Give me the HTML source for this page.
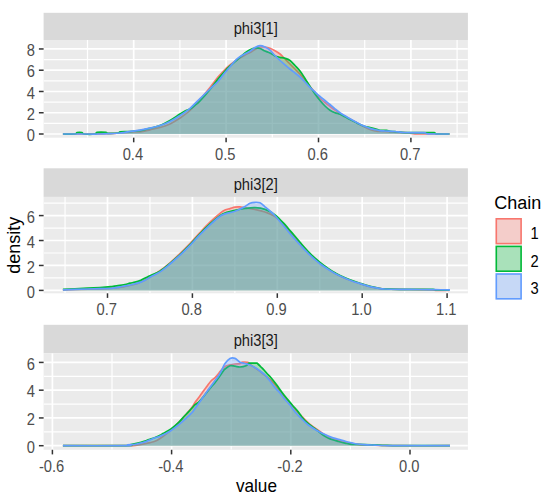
<!DOCTYPE html><html><head><meta charset="utf-8"><style>html,body{margin:0;padding:0;background:#fff;width:550px;height:502px;overflow:hidden}svg{display:block}text{font-family:"Liberation Sans",sans-serif}</style></head><body>
<svg width="550" height="502" viewBox="0 0 550 502">
<rect width="550" height="502" fill="#fff"/>
<rect x="43.6" y="12.8" width="424.3" height="27.2" fill="#D9D9D9"/>
<text transform="translate(255.75,34) scale(0.92,1)" font-size="16" fill="#1A1A1A" text-anchor="middle">phi3[1]</text>
<rect x="43.6" y="40" width="424.3" height="97.7" fill="#EBEBEB"/>
<g clip-path="url(#c0)">
<line x1="43.6" x2="467.9" y1="123.37" y2="123.37" stroke="#fff" stroke-width="1.2"/>
<line x1="43.6" x2="467.9" y1="102.11" y2="102.11" stroke="#fff" stroke-width="1.2"/>
<line x1="43.6" x2="467.9" y1="80.85" y2="80.85" stroke="#fff" stroke-width="1.2"/>
<line x1="43.6" x2="467.9" y1="59.59" y2="59.59" stroke="#fff" stroke-width="1.2"/>
<line y1="40" y2="137.7" x1="87.5" x2="87.5" stroke="#fff" stroke-width="1.2"/>
<line y1="40" y2="137.7" x1="179.9" x2="179.9" stroke="#fff" stroke-width="1.2"/>
<line y1="40" y2="137.7" x1="272.3" x2="272.3" stroke="#fff" stroke-width="1.2"/>
<line y1="40" y2="137.7" x1="364.7" x2="364.7" stroke="#fff" stroke-width="1.2"/>
<line y1="40" y2="137.7" x1="457.1" x2="457.1" stroke="#fff" stroke-width="1.2"/>
<line x1="43.6" x2="467.9" y1="134" y2="134" stroke="#fff" stroke-width="1.7"/>
<line x1="43.6" x2="467.9" y1="112.74" y2="112.74" stroke="#fff" stroke-width="1.7"/>
<line x1="43.6" x2="467.9" y1="91.48" y2="91.48" stroke="#fff" stroke-width="1.7"/>
<line x1="43.6" x2="467.9" y1="70.22" y2="70.22" stroke="#fff" stroke-width="1.7"/>
<line x1="43.6" x2="467.9" y1="48.96" y2="48.96" stroke="#fff" stroke-width="1.7"/>
<line y1="40" y2="137.7" x1="133.7" x2="133.7" stroke="#fff" stroke-width="1.7"/>
<line y1="40" y2="137.7" x1="226.1" x2="226.1" stroke="#fff" stroke-width="1.7"/>
<line y1="40" y2="137.7" x1="318.5" x2="318.5" stroke="#fff" stroke-width="1.7"/>
<line y1="40" y2="137.7" x1="410.9" x2="410.9" stroke="#fff" stroke-width="1.7"/>
<path d="M62.9,134C65.75,134 73.82,134.03 80,134C86.18,133.97 94.17,133.92 100,133.8C105.83,133.68 110.83,133.52 115,133.3C119.17,133.08 122.17,132.72 125,132.5C127.83,132.28 129.5,132.12 132,132C134.5,131.88 137,132.17 140,131.8C143,131.43 146.67,130.52 150,129.8C153.33,129.08 156.67,128.48 160,127.5C163.33,126.52 166.67,125.48 170,123.9C173.33,122.32 176.67,120.23 180,118C183.33,115.77 186.67,113.58 190,110.5C193.33,107.42 196.67,103.33 200,99.5C203.33,95.67 207,91.25 210,87.5C213,83.75 215.5,80 218,77C220.5,74 223,71.5 225,69.5C227,67.5 228,66.63 230,65C232,63.37 234.5,61.37 237,59.7C239.5,58.03 242.83,56.2 245,55C247.17,53.8 248.33,53.42 250,52.5C251.67,51.58 253.33,50.42 255,49.5C256.67,48.58 258.33,47.42 260,47C261.67,46.58 263.33,46.8 265,47C266.67,47.2 268.33,47.57 270,48.2C271.67,48.83 273.33,49.83 275,50.8C276.67,51.77 278.33,52.63 280,54C281.67,55.37 283.33,57.33 285,59C286.67,60.67 288.33,62.33 290,64C291.67,65.67 293.33,67.33 295,69C296.67,70.67 298.33,72.17 300,74C301.67,75.83 303.33,77.92 305,80C306.67,82.08 308.33,84.42 310,86.5C311.67,88.58 313.33,90.5 315,92.5C316.67,94.5 318.33,96.83 320,98.5C321.67,100.17 323.33,101.2 325,102.5C326.67,103.8 328.33,105.05 330,106.3C331.67,107.55 333.33,108.8 335,110C336.67,111.2 338.33,112.45 340,113.5C341.67,114.55 343.33,115.38 345,116.3C346.67,117.22 348.33,118.08 350,119C351.67,119.92 353.33,120.88 355,121.8C356.67,122.72 358.33,123.6 360,124.5C361.67,125.4 363.33,126.37 365,127.2C366.67,128.03 368.33,128.9 370,129.5C371.67,130.1 373.33,130.47 375,130.8C376.67,131.13 377.5,131.32 380,131.5C382.5,131.68 385.83,131.72 390,131.9C394.17,132.08 400.5,132.27 405,132.6C409.5,132.93 413.5,133.67 417,133.9C420.5,134.13 423,133.98 426,134C429,134.02 431.08,134 435,134C438.92,134 447.08,134 449.5,134L449.5,134L62.9,134Z" fill="#F8766D" fill-opacity="0.3"/>
<path d="M62.9,134C65.75,134 73.82,134.03 80,134C86.18,133.97 94.17,133.92 100,133.8C105.83,133.68 110.83,133.52 115,133.3C119.17,133.08 122.17,132.72 125,132.5C127.83,132.28 129.5,132.12 132,132C134.5,131.88 137,132.17 140,131.8C143,131.43 146.67,130.52 150,129.8C153.33,129.08 156.67,128.48 160,127.5C163.33,126.52 166.67,125.48 170,123.9C173.33,122.32 176.67,120.23 180,118C183.33,115.77 186.67,113.58 190,110.5C193.33,107.42 196.67,103.33 200,99.5C203.33,95.67 207,91.25 210,87.5C213,83.75 215.5,80 218,77C220.5,74 223,71.5 225,69.5C227,67.5 228,66.63 230,65C232,63.37 234.5,61.37 237,59.7C239.5,58.03 242.83,56.2 245,55C247.17,53.8 248.33,53.42 250,52.5C251.67,51.58 253.33,50.42 255,49.5C256.67,48.58 258.33,47.42 260,47C261.67,46.58 263.33,46.8 265,47C266.67,47.2 268.33,47.57 270,48.2C271.67,48.83 273.33,49.83 275,50.8C276.67,51.77 278.33,52.63 280,54C281.67,55.37 283.33,57.33 285,59C286.67,60.67 288.33,62.33 290,64C291.67,65.67 293.33,67.33 295,69C296.67,70.67 298.33,72.17 300,74C301.67,75.83 303.33,77.92 305,80C306.67,82.08 308.33,84.42 310,86.5C311.67,88.58 313.33,90.5 315,92.5C316.67,94.5 318.33,96.83 320,98.5C321.67,100.17 323.33,101.2 325,102.5C326.67,103.8 328.33,105.05 330,106.3C331.67,107.55 333.33,108.8 335,110C336.67,111.2 338.33,112.45 340,113.5C341.67,114.55 343.33,115.38 345,116.3C346.67,117.22 348.33,118.08 350,119C351.67,119.92 353.33,120.88 355,121.8C356.67,122.72 358.33,123.6 360,124.5C361.67,125.4 363.33,126.37 365,127.2C366.67,128.03 368.33,128.9 370,129.5C371.67,130.1 373.33,130.47 375,130.8C376.67,131.13 377.5,131.32 380,131.5C382.5,131.68 385.83,131.72 390,131.9C394.17,132.08 400.5,132.27 405,132.6C409.5,132.93 413.5,133.67 417,133.9C420.5,134.13 423,133.98 426,134C429,134.02 431.08,134 435,134C438.92,134 447.08,134 449.5,134" fill="none" stroke="#F8766D" stroke-width="1.7" stroke-linejoin="round"/>
<path d="M62.9,134C64.92,134 72.65,134.23 75,134C77.35,133.77 75.83,132.83 77,132.6C78.17,132.37 80.83,132.37 82,132.6C83.17,132.83 81.83,133.77 84,134C86.17,134.23 92.83,134.27 95,134C97.17,133.73 95.17,132.67 97,132.4C98.83,132.13 104.17,132.23 106,132.4C107.83,132.57 106,133.3 108,133.4C110,133.5 116,133.27 118,133C120,132.73 118.5,132.03 120,131.8C121.5,131.57 125,131.68 127,131.6C129,131.52 129.83,131.47 132,131.3C134.17,131.13 137,131.1 140,130.6C143,130.1 146.67,129.15 150,128.3C153.33,127.45 156.67,126.8 160,125.5C163.33,124.2 166.67,122.42 170,120.5C173.33,118.58 177.5,115.58 180,114C182.5,112.42 183.33,111.83 185,111C186.67,110.17 188.33,109.95 190,109C191.67,108.05 193.33,106.63 195,105.3C196.67,103.97 197.5,103.63 200,101C202.5,98.37 207,93.17 210,89.5C213,85.83 215.5,82.08 218,79C220.5,75.92 223,73.17 225,71C227,68.83 228,67.83 230,66C232,64.17 234.5,62.17 237,60C239.5,57.83 242.83,54.7 245,53C247.17,51.3 248.33,50.63 250,49.8C251.67,48.97 253.33,48.22 255,48C256.67,47.78 258.33,48 260,48.5C261.67,49 263.33,50.25 265,51C266.67,51.75 268.33,52.17 270,53C271.67,53.83 273.33,55.28 275,56C276.67,56.72 278.33,56.92 280,57.3C281.67,57.68 283.33,57.77 285,58.3C286.67,58.83 288.33,59.3 290,60.5C291.67,61.7 293.33,63.75 295,65.5C296.67,67.25 298.33,68.83 300,71C301.67,73.17 303.33,75.92 305,78.5C306.67,81.08 308.33,83.92 310,86.5C311.67,89.08 313.33,91.67 315,94C316.67,96.33 318.33,98.5 320,100.5C321.67,102.5 323.33,104.37 325,106C326.67,107.63 328.33,109.17 330,110.3C331.67,111.43 333.33,112.13 335,112.8C336.67,113.47 338.33,113.63 340,114.3C341.67,114.97 343.33,115.93 345,116.8C346.67,117.67 348.33,118.63 350,119.5C351.67,120.37 353.33,121.17 355,122C356.67,122.83 358.33,123.75 360,124.5C361.67,125.25 363.33,125.98 365,126.5C366.67,127.02 368.17,127.17 370,127.6C371.83,128.03 374.33,128.65 376,129.1C377.67,129.55 378.25,130.1 380,130.3C381.75,130.5 384.83,130.12 386.5,130.3C388.17,130.48 388.58,131.18 390,131.4C391.42,131.62 392.5,131.4 395,131.6C397.5,131.8 400.83,132.42 405,132.6C409.17,132.78 416.5,132.7 420,132.7C423.5,132.7 423.67,132.6 426,132.6C428.33,132.6 432.17,132.48 434,132.7C435.83,132.92 434.42,133.68 437,133.9C439.58,134.12 447.42,133.98 449.5,134L449.5,134L62.9,134Z" fill="#00BA38" fill-opacity="0.3"/>
<path d="M62.9,134C64.92,134 72.65,134.23 75,134C77.35,133.77 75.83,132.83 77,132.6C78.17,132.37 80.83,132.37 82,132.6C83.17,132.83 81.83,133.77 84,134C86.17,134.23 92.83,134.27 95,134C97.17,133.73 95.17,132.67 97,132.4C98.83,132.13 104.17,132.23 106,132.4C107.83,132.57 106,133.3 108,133.4C110,133.5 116,133.27 118,133C120,132.73 118.5,132.03 120,131.8C121.5,131.57 125,131.68 127,131.6C129,131.52 129.83,131.47 132,131.3C134.17,131.13 137,131.1 140,130.6C143,130.1 146.67,129.15 150,128.3C153.33,127.45 156.67,126.8 160,125.5C163.33,124.2 166.67,122.42 170,120.5C173.33,118.58 177.5,115.58 180,114C182.5,112.42 183.33,111.83 185,111C186.67,110.17 188.33,109.95 190,109C191.67,108.05 193.33,106.63 195,105.3C196.67,103.97 197.5,103.63 200,101C202.5,98.37 207,93.17 210,89.5C213,85.83 215.5,82.08 218,79C220.5,75.92 223,73.17 225,71C227,68.83 228,67.83 230,66C232,64.17 234.5,62.17 237,60C239.5,57.83 242.83,54.7 245,53C247.17,51.3 248.33,50.63 250,49.8C251.67,48.97 253.33,48.22 255,48C256.67,47.78 258.33,48 260,48.5C261.67,49 263.33,50.25 265,51C266.67,51.75 268.33,52.17 270,53C271.67,53.83 273.33,55.28 275,56C276.67,56.72 278.33,56.92 280,57.3C281.67,57.68 283.33,57.77 285,58.3C286.67,58.83 288.33,59.3 290,60.5C291.67,61.7 293.33,63.75 295,65.5C296.67,67.25 298.33,68.83 300,71C301.67,73.17 303.33,75.92 305,78.5C306.67,81.08 308.33,83.92 310,86.5C311.67,89.08 313.33,91.67 315,94C316.67,96.33 318.33,98.5 320,100.5C321.67,102.5 323.33,104.37 325,106C326.67,107.63 328.33,109.17 330,110.3C331.67,111.43 333.33,112.13 335,112.8C336.67,113.47 338.33,113.63 340,114.3C341.67,114.97 343.33,115.93 345,116.8C346.67,117.67 348.33,118.63 350,119.5C351.67,120.37 353.33,121.17 355,122C356.67,122.83 358.33,123.75 360,124.5C361.67,125.25 363.33,125.98 365,126.5C366.67,127.02 368.17,127.17 370,127.6C371.83,128.03 374.33,128.65 376,129.1C377.67,129.55 378.25,130.1 380,130.3C381.75,130.5 384.83,130.12 386.5,130.3C388.17,130.48 388.58,131.18 390,131.4C391.42,131.62 392.5,131.4 395,131.6C397.5,131.8 400.83,132.42 405,132.6C409.17,132.78 416.5,132.7 420,132.7C423.5,132.7 423.67,132.6 426,132.6C428.33,132.6 432.17,132.48 434,132.7C435.83,132.92 434.42,133.68 437,133.9C439.58,134.12 447.42,133.98 449.5,134" fill="none" stroke="#00BA38" stroke-width="1.7" stroke-linejoin="round"/>
<path d="M62.9,134C65.75,134 73.82,134 80,134C86.18,134 95,134.07 100,134C105,133.93 106.67,133.77 110,133.6C113.33,133.43 117.5,133.22 120,133C122.5,132.78 123,132.6 125,132.3C127,132 129.5,131.55 132,131.2C134.5,130.85 137,130.7 140,130.2C143,129.7 146.67,128.98 150,128.2C153.33,127.42 156.67,126.62 160,125.5C163.33,124.38 166.67,123.17 170,121.5C173.33,119.83 176.67,117.7 180,115.5C183.33,113.3 186.67,111.13 190,108.3C193.33,105.47 196.67,101.72 200,98.5C203.33,95.28 207,91.83 210,89C213,86.17 215.5,84.25 218,81.5C220.5,78.75 223,74.95 225,72.5C227,70.05 228,69.08 230,66.8C232,64.52 234.5,60.97 237,58.8C239.5,56.63 242.83,55.07 245,53.8C247.17,52.53 248.33,52.25 250,51.2C251.67,50.15 253.33,48.43 255,47.5C256.67,46.57 258.33,45.68 260,45.6C261.67,45.52 263.33,46.23 265,47C266.67,47.77 268.33,48.78 270,50.2C271.67,51.62 273.33,53.78 275,55.5C276.67,57.22 278.33,58.95 280,60.5C281.67,62.05 283.33,63.38 285,64.8C286.67,66.22 288.33,67.63 290,69C291.67,70.37 293.33,71.67 295,73C296.67,74.33 298.33,75.5 300,77C301.67,78.5 303.33,80.28 305,82C306.67,83.72 308.33,85.63 310,87.3C311.67,88.97 313.33,90.47 315,92C316.67,93.53 318.33,95.08 320,96.5C321.67,97.92 323.33,99.17 325,100.5C326.67,101.83 328.33,103.12 330,104.5C331.67,105.88 333.33,107.42 335,108.8C336.67,110.18 338.33,111.63 340,112.8C341.67,113.97 343.33,114.82 345,115.8C346.67,116.78 348.33,117.75 350,118.7C351.67,119.65 353.33,120.57 355,121.5C356.67,122.43 358.33,123.48 360,124.3C361.67,125.12 363.33,125.72 365,126.4C366.67,127.08 368.33,127.87 370,128.4C371.67,128.93 373.33,129.23 375,129.6C376.67,129.97 378.33,130.37 380,130.6C381.67,130.83 382.5,130.85 385,131C387.5,131.15 391.67,131.25 395,131.5C398.33,131.75 400.17,132.3 405,132.5C409.83,132.7 420.17,132.47 424,132.7C427.83,132.93 423.75,133.68 428,133.9C432.25,134.12 445.92,133.98 449.5,134L449.5,134L62.9,134Z" fill="#619CFF" fill-opacity="0.3"/>
<path d="M62.9,134C65.75,134 73.82,134 80,134C86.18,134 95,134.07 100,134C105,133.93 106.67,133.77 110,133.6C113.33,133.43 117.5,133.22 120,133C122.5,132.78 123,132.6 125,132.3C127,132 129.5,131.55 132,131.2C134.5,130.85 137,130.7 140,130.2C143,129.7 146.67,128.98 150,128.2C153.33,127.42 156.67,126.62 160,125.5C163.33,124.38 166.67,123.17 170,121.5C173.33,119.83 176.67,117.7 180,115.5C183.33,113.3 186.67,111.13 190,108.3C193.33,105.47 196.67,101.72 200,98.5C203.33,95.28 207,91.83 210,89C213,86.17 215.5,84.25 218,81.5C220.5,78.75 223,74.95 225,72.5C227,70.05 228,69.08 230,66.8C232,64.52 234.5,60.97 237,58.8C239.5,56.63 242.83,55.07 245,53.8C247.17,52.53 248.33,52.25 250,51.2C251.67,50.15 253.33,48.43 255,47.5C256.67,46.57 258.33,45.68 260,45.6C261.67,45.52 263.33,46.23 265,47C266.67,47.77 268.33,48.78 270,50.2C271.67,51.62 273.33,53.78 275,55.5C276.67,57.22 278.33,58.95 280,60.5C281.67,62.05 283.33,63.38 285,64.8C286.67,66.22 288.33,67.63 290,69C291.67,70.37 293.33,71.67 295,73C296.67,74.33 298.33,75.5 300,77C301.67,78.5 303.33,80.28 305,82C306.67,83.72 308.33,85.63 310,87.3C311.67,88.97 313.33,90.47 315,92C316.67,93.53 318.33,95.08 320,96.5C321.67,97.92 323.33,99.17 325,100.5C326.67,101.83 328.33,103.12 330,104.5C331.67,105.88 333.33,107.42 335,108.8C336.67,110.18 338.33,111.63 340,112.8C341.67,113.97 343.33,114.82 345,115.8C346.67,116.78 348.33,117.75 350,118.7C351.67,119.65 353.33,120.57 355,121.5C356.67,122.43 358.33,123.48 360,124.3C361.67,125.12 363.33,125.72 365,126.4C366.67,127.08 368.33,127.87 370,128.4C371.67,128.93 373.33,129.23 375,129.6C376.67,129.97 378.33,130.37 380,130.6C381.67,130.83 382.5,130.85 385,131C387.5,131.15 391.67,131.25 395,131.5C398.33,131.75 400.17,132.3 405,132.5C409.83,132.7 420.17,132.47 424,132.7C427.83,132.93 423.75,133.68 428,133.9C432.25,134.12 445.92,133.98 449.5,134" fill="none" stroke="#619CFF" stroke-width="1.7" stroke-linejoin="round"/>
</g>
<line x1="133.7" x2="133.7" y1="137.7" y2="142.3" stroke="#333" stroke-width="1.5"/>
<text transform="translate(132.9,159.5) scale(0.92,1)" font-size="16" fill="#4D4D4D" text-anchor="middle">0.4</text>
<line x1="226.1" x2="226.1" y1="137.7" y2="142.3" stroke="#333" stroke-width="1.5"/>
<text transform="translate(225.3,159.5) scale(0.92,1)" font-size="16" fill="#4D4D4D" text-anchor="middle">0.5</text>
<line x1="318.5" x2="318.5" y1="137.7" y2="142.3" stroke="#333" stroke-width="1.5"/>
<text transform="translate(317.7,159.5) scale(0.92,1)" font-size="16" fill="#4D4D4D" text-anchor="middle">0.6</text>
<line x1="410.9" x2="410.9" y1="137.7" y2="142.3" stroke="#333" stroke-width="1.5"/>
<text transform="translate(410.1,159.5) scale(0.92,1)" font-size="16" fill="#4D4D4D" text-anchor="middle">0.7</text>
<line x1="38.9" x2="43.6" y1="134" y2="134" stroke="#333" stroke-width="1.5"/>
<text transform="translate(35,141.2) scale(0.92,1)" font-size="16" fill="#4D4D4D" text-anchor="end">0</text>
<line x1="38.9" x2="43.6" y1="112.74" y2="112.74" stroke="#333" stroke-width="1.5"/>
<text transform="translate(35,119.94) scale(0.92,1)" font-size="16" fill="#4D4D4D" text-anchor="end">2</text>
<line x1="38.9" x2="43.6" y1="91.48" y2="91.48" stroke="#333" stroke-width="1.5"/>
<text transform="translate(35,98.68) scale(0.92,1)" font-size="16" fill="#4D4D4D" text-anchor="end">4</text>
<line x1="38.9" x2="43.6" y1="70.22" y2="70.22" stroke="#333" stroke-width="1.5"/>
<text transform="translate(35,77.42) scale(0.92,1)" font-size="16" fill="#4D4D4D" text-anchor="end">6</text>
<line x1="38.9" x2="43.6" y1="48.96" y2="48.96" stroke="#333" stroke-width="1.5"/>
<text transform="translate(35,56.16) scale(0.92,1)" font-size="16" fill="#4D4D4D" text-anchor="end">8</text>
<rect x="43.6" y="168.3" width="424.3" height="28.6" fill="#D9D9D9"/>
<text transform="translate(255.75,189.5) scale(0.92,1)" font-size="16" fill="#1A1A1A" text-anchor="middle">phi3[2]</text>
<rect x="43.6" y="196.9" width="424.3" height="96.4" fill="#EBEBEB"/>
<g clip-path="url(#c1)">
<line x1="43.6" x2="467.9" y1="277.93" y2="277.93" stroke="#fff" stroke-width="1.2"/>
<line x1="43.6" x2="467.9" y1="252.99" y2="252.99" stroke="#fff" stroke-width="1.2"/>
<line x1="43.6" x2="467.9" y1="228.05" y2="228.05" stroke="#fff" stroke-width="1.2"/>
<line x1="43.6" x2="467.9" y1="203.11" y2="203.11" stroke="#fff" stroke-width="1.2"/>
<line y1="196.9" y2="293.3" x1="65.05" x2="65.05" stroke="#fff" stroke-width="1.2"/>
<line y1="196.9" y2="293.3" x1="149.95" x2="149.95" stroke="#fff" stroke-width="1.2"/>
<line y1="196.9" y2="293.3" x1="234.85" x2="234.85" stroke="#fff" stroke-width="1.2"/>
<line y1="196.9" y2="293.3" x1="319.75" x2="319.75" stroke="#fff" stroke-width="1.2"/>
<line y1="196.9" y2="293.3" x1="404.65" x2="404.65" stroke="#fff" stroke-width="1.2"/>
<line x1="43.6" x2="467.9" y1="290.4" y2="290.4" stroke="#fff" stroke-width="1.7"/>
<line x1="43.6" x2="467.9" y1="265.46" y2="265.46" stroke="#fff" stroke-width="1.7"/>
<line x1="43.6" x2="467.9" y1="240.52" y2="240.52" stroke="#fff" stroke-width="1.7"/>
<line x1="43.6" x2="467.9" y1="215.58" y2="215.58" stroke="#fff" stroke-width="1.7"/>
<line y1="196.9" y2="293.3" x1="107.5" x2="107.5" stroke="#fff" stroke-width="1.7"/>
<line y1="196.9" y2="293.3" x1="192.4" x2="192.4" stroke="#fff" stroke-width="1.7"/>
<line y1="196.9" y2="293.3" x1="277.3" x2="277.3" stroke="#fff" stroke-width="1.7"/>
<line y1="196.9" y2="293.3" x1="362.2" x2="362.2" stroke="#fff" stroke-width="1.7"/>
<line y1="196.9" y2="293.3" x1="447.1" x2="447.1" stroke="#fff" stroke-width="1.7"/>
<path d="M62.9,289.8C64.92,289.75 68.82,289.67 75,289.5C81.18,289.33 93.33,289.05 100,288.8C106.67,288.55 110.83,288.38 115,288C119.17,287.62 121.67,287.12 125,286.5C128.33,285.88 132.5,285 135,284.3C137.5,283.6 138.33,283.02 140,282.3C141.67,281.58 143.33,280.88 145,280C146.67,279.12 147.5,278.53 150,277C152.5,275.47 156.67,273.17 160,270.8C163.33,268.43 166.67,265.67 170,262.8C173.33,259.93 176.67,256.8 180,253.6C183.33,250.4 186.67,247.1 190,243.6C193.33,240.1 196.67,236.17 200,232.6C203.33,229.03 206.67,225.4 210,222.2C213.33,219 217.5,215.43 220,213.4C222.5,211.37 223.33,210.8 225,210C226.67,209.2 228.33,209.08 230,208.6C231.67,208.12 233.33,207.38 235,207.1C236.67,206.82 238.33,206.8 240,206.9C241.67,207 242.5,207.28 245,207.7C247.5,208.12 251.67,208.68 255,209.4C258.33,210.12 261.67,210.8 265,212C268.33,213.2 271.67,214.22 275,216.6C278.33,218.98 282.5,223.73 285,226.3C287.5,228.87 288.33,230.08 290,232C291.67,233.92 293.33,235.92 295,237.8C296.67,239.68 298.33,241.47 300,243.3C301.67,245.13 303.33,247.02 305,248.8C306.67,250.58 308.33,252.33 310,254C311.67,255.67 313.33,257.3 315,258.8C316.67,260.3 318.33,261.67 320,263C321.67,264.33 323.33,265.6 325,266.8C326.67,268 328.33,269.13 330,270.2C331.67,271.27 333.33,272.25 335,273.2C336.67,274.15 337.5,274.73 340,275.9C342.5,277.07 346.67,278.92 350,280.2C353.33,281.48 356.67,282.53 360,283.6C363.33,284.67 367,285.83 370,286.6C373,287.37 375.5,287.8 378,288.2C380.5,288.6 381.33,288.8 385,289C388.67,289.2 394.17,289.3 400,289.4C405.83,289.5 414.67,289.53 420,289.6C425.33,289.67 429.17,289.68 432,289.8C434.83,289.92 434.08,290.22 437,290.3C439.92,290.38 447.42,290.3 449.5,290.3L449.5,290.4L62.9,290.4Z" fill="#F8766D" fill-opacity="0.3"/>
<path d="M62.9,289.8C64.92,289.75 68.82,289.67 75,289.5C81.18,289.33 93.33,289.05 100,288.8C106.67,288.55 110.83,288.38 115,288C119.17,287.62 121.67,287.12 125,286.5C128.33,285.88 132.5,285 135,284.3C137.5,283.6 138.33,283.02 140,282.3C141.67,281.58 143.33,280.88 145,280C146.67,279.12 147.5,278.53 150,277C152.5,275.47 156.67,273.17 160,270.8C163.33,268.43 166.67,265.67 170,262.8C173.33,259.93 176.67,256.8 180,253.6C183.33,250.4 186.67,247.1 190,243.6C193.33,240.1 196.67,236.17 200,232.6C203.33,229.03 206.67,225.4 210,222.2C213.33,219 217.5,215.43 220,213.4C222.5,211.37 223.33,210.8 225,210C226.67,209.2 228.33,209.08 230,208.6C231.67,208.12 233.33,207.38 235,207.1C236.67,206.82 238.33,206.8 240,206.9C241.67,207 242.5,207.28 245,207.7C247.5,208.12 251.67,208.68 255,209.4C258.33,210.12 261.67,210.8 265,212C268.33,213.2 271.67,214.22 275,216.6C278.33,218.98 282.5,223.73 285,226.3C287.5,228.87 288.33,230.08 290,232C291.67,233.92 293.33,235.92 295,237.8C296.67,239.68 298.33,241.47 300,243.3C301.67,245.13 303.33,247.02 305,248.8C306.67,250.58 308.33,252.33 310,254C311.67,255.67 313.33,257.3 315,258.8C316.67,260.3 318.33,261.67 320,263C321.67,264.33 323.33,265.6 325,266.8C326.67,268 328.33,269.13 330,270.2C331.67,271.27 333.33,272.25 335,273.2C336.67,274.15 337.5,274.73 340,275.9C342.5,277.07 346.67,278.92 350,280.2C353.33,281.48 356.67,282.53 360,283.6C363.33,284.67 367,285.83 370,286.6C373,287.37 375.5,287.8 378,288.2C380.5,288.6 381.33,288.8 385,289C388.67,289.2 394.17,289.3 400,289.4C405.83,289.5 414.67,289.53 420,289.6C425.33,289.67 429.17,289.68 432,289.8C434.83,289.92 434.08,290.22 437,290.3C439.92,290.38 447.42,290.3 449.5,290.3" fill="none" stroke="#F8766D" stroke-width="1.7" stroke-linejoin="round"/>
<path d="M62.9,289.4C64.92,289.3 68.82,289.12 75,288.8C81.18,288.48 93.83,287.88 100,287.5C106.17,287.12 109,286.8 112,286.5C115,286.2 115.83,286.03 118,285.7C120.17,285.37 123,284.92 125,284.5C127,284.08 128.33,283.6 130,283.2C131.67,282.8 133.33,282.53 135,282.1C136.67,281.67 138.5,281.2 140,280.6C141.5,280 142.33,279.3 144,278.5C145.67,277.7 147.33,277.02 150,275.8C152.67,274.58 156.67,273.27 160,271.2C163.33,269.13 166.67,266.18 170,263.4C173.33,260.62 176.67,257.63 180,254.5C183.33,251.37 186.67,248.05 190,244.6C193.33,241.15 196.67,237.23 200,233.8C203.33,230.37 206.67,227 210,224C213.33,221 217.5,217.63 220,215.8C222.5,213.97 222.5,213.92 225,213C227.5,212.08 231.67,211.05 235,210.3C238.33,209.55 241.67,208.93 245,208.5C248.33,208.07 251.67,207.55 255,207.7C258.33,207.85 261.67,208.22 265,209.4C268.33,210.58 271.67,212.25 275,214.8C278.33,217.35 282.5,222.08 285,224.7C287.5,227.32 288.33,228.57 290,230.5C291.67,232.43 293.33,234.35 295,236.3C296.67,238.25 298.33,240.25 300,242.2C301.67,244.15 303.33,246.13 305,248C306.67,249.87 308.33,251.7 310,253.4C311.67,255.1 313.33,256.7 315,258.2C316.67,259.7 318.33,261.05 320,262.4C321.67,263.75 323.33,265.07 325,266.3C326.67,267.53 328.33,268.72 330,269.8C331.67,270.88 333.33,271.85 335,272.8C336.67,273.75 337.5,274.33 340,275.5C342.5,276.67 346.67,278.52 350,279.8C353.33,281.08 356.67,282.12 360,283.2C363.33,284.28 367,285.5 370,286.3C373,287.1 375.5,287.57 378,288C380.5,288.43 381.33,288.68 385,288.9C388.67,289.12 394.17,289.22 400,289.3C405.83,289.38 414.5,289.4 420,289.4C425.5,289.4 430.17,289.2 433,289.3C435.83,289.4 434.25,289.87 437,290C439.75,290.13 447.42,290.08 449.5,290.1L449.5,290.4L62.9,290.4Z" fill="#00BA38" fill-opacity="0.3"/>
<path d="M62.9,289.4C64.92,289.3 68.82,289.12 75,288.8C81.18,288.48 93.83,287.88 100,287.5C106.17,287.12 109,286.8 112,286.5C115,286.2 115.83,286.03 118,285.7C120.17,285.37 123,284.92 125,284.5C127,284.08 128.33,283.6 130,283.2C131.67,282.8 133.33,282.53 135,282.1C136.67,281.67 138.5,281.2 140,280.6C141.5,280 142.33,279.3 144,278.5C145.67,277.7 147.33,277.02 150,275.8C152.67,274.58 156.67,273.27 160,271.2C163.33,269.13 166.67,266.18 170,263.4C173.33,260.62 176.67,257.63 180,254.5C183.33,251.37 186.67,248.05 190,244.6C193.33,241.15 196.67,237.23 200,233.8C203.33,230.37 206.67,227 210,224C213.33,221 217.5,217.63 220,215.8C222.5,213.97 222.5,213.92 225,213C227.5,212.08 231.67,211.05 235,210.3C238.33,209.55 241.67,208.93 245,208.5C248.33,208.07 251.67,207.55 255,207.7C258.33,207.85 261.67,208.22 265,209.4C268.33,210.58 271.67,212.25 275,214.8C278.33,217.35 282.5,222.08 285,224.7C287.5,227.32 288.33,228.57 290,230.5C291.67,232.43 293.33,234.35 295,236.3C296.67,238.25 298.33,240.25 300,242.2C301.67,244.15 303.33,246.13 305,248C306.67,249.87 308.33,251.7 310,253.4C311.67,255.1 313.33,256.7 315,258.2C316.67,259.7 318.33,261.05 320,262.4C321.67,263.75 323.33,265.07 325,266.3C326.67,267.53 328.33,268.72 330,269.8C331.67,270.88 333.33,271.85 335,272.8C336.67,273.75 337.5,274.33 340,275.5C342.5,276.67 346.67,278.52 350,279.8C353.33,281.08 356.67,282.12 360,283.2C363.33,284.28 367,285.5 370,286.3C373,287.1 375.5,287.57 378,288C380.5,288.43 381.33,288.68 385,288.9C388.67,289.12 394.17,289.22 400,289.3C405.83,289.38 414.5,289.4 420,289.4C425.5,289.4 430.17,289.2 433,289.3C435.83,289.4 434.25,289.87 437,290C439.75,290.13 447.42,290.08 449.5,290.1" fill="none" stroke="#00BA38" stroke-width="1.7" stroke-linejoin="round"/>
<path d="M62.9,289.8C64.92,289.73 68.82,289.6 75,289.4C81.18,289.2 93.83,288.78 100,288.6C106.17,288.42 108.67,288.58 112,288.3C115.33,288.02 117.5,287.33 120,286.9C122.5,286.47 124.67,286.18 127,285.7C129.33,285.22 131.67,284.6 134,284C136.33,283.4 139.17,282.72 141,282.1C142.83,281.48 143.5,281.12 145,280.3C146.5,279.48 147.5,278.6 150,277.2C152.5,275.8 156.67,274.1 160,271.9C163.33,269.7 166.67,266.78 170,264C173.33,261.22 176.67,258.32 180,255.2C183.33,252.08 186.67,248.73 190,245.3C193.33,241.87 196.67,238.02 200,234.6C203.33,231.18 206.67,227.87 210,224.8C213.33,221.73 217.5,218.02 220,216.2C222.5,214.38 222.5,214.73 225,213.9C227.5,213.07 231.67,212.45 235,211.2C238.33,209.95 242.5,207.73 245,206.4C247.5,205.07 248.33,203.88 250,203.2C251.67,202.52 253.33,202.37 255,202.3C256.67,202.23 258.33,202.05 260,202.8C261.67,203.55 263.33,205.43 265,206.8C266.67,208.17 268.33,209.52 270,211C271.67,212.48 272.5,212.95 275,215.7C277.5,218.45 282.5,224.53 285,227.5C287.5,230.47 288.33,231.53 290,233.5C291.67,235.47 293.33,237.43 295,239.3C296.67,241.17 298.33,242.88 300,244.7C301.67,246.52 303.33,248.45 305,250.2C306.67,251.95 308.33,253.62 310,255.2C311.67,256.78 313.33,258.28 315,259.7C316.67,261.12 318.33,262.43 320,263.7C321.67,264.97 323.33,266.17 325,267.3C326.67,268.43 328.33,269.48 330,270.5C331.67,271.52 333.33,272.48 335,273.4C336.67,274.32 337.5,274.87 340,276C342.5,277.13 346.67,278.93 350,280.2C353.33,281.47 356.67,282.53 360,283.6C363.33,284.67 367,285.83 370,286.6C373,287.37 375.5,287.8 378,288.2C380.5,288.6 381.33,288.8 385,289C388.67,289.2 394.17,289.32 400,289.4C405.83,289.48 414.17,289.45 420,289.5C425.83,289.55 430,289.65 435,289.7C440,289.75 447.5,289.78 450,289.8L450,290.4L62.9,290.4Z" fill="#619CFF" fill-opacity="0.3"/>
<path d="M62.9,289.8C64.92,289.73 68.82,289.6 75,289.4C81.18,289.2 93.83,288.78 100,288.6C106.17,288.42 108.67,288.58 112,288.3C115.33,288.02 117.5,287.33 120,286.9C122.5,286.47 124.67,286.18 127,285.7C129.33,285.22 131.67,284.6 134,284C136.33,283.4 139.17,282.72 141,282.1C142.83,281.48 143.5,281.12 145,280.3C146.5,279.48 147.5,278.6 150,277.2C152.5,275.8 156.67,274.1 160,271.9C163.33,269.7 166.67,266.78 170,264C173.33,261.22 176.67,258.32 180,255.2C183.33,252.08 186.67,248.73 190,245.3C193.33,241.87 196.67,238.02 200,234.6C203.33,231.18 206.67,227.87 210,224.8C213.33,221.73 217.5,218.02 220,216.2C222.5,214.38 222.5,214.73 225,213.9C227.5,213.07 231.67,212.45 235,211.2C238.33,209.95 242.5,207.73 245,206.4C247.5,205.07 248.33,203.88 250,203.2C251.67,202.52 253.33,202.37 255,202.3C256.67,202.23 258.33,202.05 260,202.8C261.67,203.55 263.33,205.43 265,206.8C266.67,208.17 268.33,209.52 270,211C271.67,212.48 272.5,212.95 275,215.7C277.5,218.45 282.5,224.53 285,227.5C287.5,230.47 288.33,231.53 290,233.5C291.67,235.47 293.33,237.43 295,239.3C296.67,241.17 298.33,242.88 300,244.7C301.67,246.52 303.33,248.45 305,250.2C306.67,251.95 308.33,253.62 310,255.2C311.67,256.78 313.33,258.28 315,259.7C316.67,261.12 318.33,262.43 320,263.7C321.67,264.97 323.33,266.17 325,267.3C326.67,268.43 328.33,269.48 330,270.5C331.67,271.52 333.33,272.48 335,273.4C336.67,274.32 337.5,274.87 340,276C342.5,277.13 346.67,278.93 350,280.2C353.33,281.47 356.67,282.53 360,283.6C363.33,284.67 367,285.83 370,286.6C373,287.37 375.5,287.8 378,288.2C380.5,288.6 381.33,288.8 385,289C388.67,289.2 394.17,289.32 400,289.4C405.83,289.48 414.17,289.45 420,289.5C425.83,289.55 430,289.65 435,289.7C440,289.75 447.5,289.78 450,289.8" fill="none" stroke="#619CFF" stroke-width="1.7" stroke-linejoin="round"/>
</g>
<line x1="107.5" x2="107.5" y1="293.3" y2="297.9" stroke="#333" stroke-width="1.5"/>
<text transform="translate(106.7,315.1) scale(0.92,1)" font-size="16" fill="#4D4D4D" text-anchor="middle">0.7</text>
<line x1="192.4" x2="192.4" y1="293.3" y2="297.9" stroke="#333" stroke-width="1.5"/>
<text transform="translate(191.6,315.1) scale(0.92,1)" font-size="16" fill="#4D4D4D" text-anchor="middle">0.8</text>
<line x1="277.3" x2="277.3" y1="293.3" y2="297.9" stroke="#333" stroke-width="1.5"/>
<text transform="translate(276.5,315.1) scale(0.92,1)" font-size="16" fill="#4D4D4D" text-anchor="middle">0.9</text>
<line x1="362.2" x2="362.2" y1="293.3" y2="297.9" stroke="#333" stroke-width="1.5"/>
<text transform="translate(361.4,315.1) scale(0.92,1)" font-size="16" fill="#4D4D4D" text-anchor="middle">1.0</text>
<line x1="447.1" x2="447.1" y1="293.3" y2="297.9" stroke="#333" stroke-width="1.5"/>
<text transform="translate(446.3,315.1) scale(0.92,1)" font-size="16" fill="#4D4D4D" text-anchor="middle">1.1</text>
<line x1="38.9" x2="43.6" y1="290.4" y2="290.4" stroke="#333" stroke-width="1.5"/>
<text transform="translate(35,297.6) scale(0.92,1)" font-size="16" fill="#4D4D4D" text-anchor="end">0</text>
<line x1="38.9" x2="43.6" y1="265.46" y2="265.46" stroke="#333" stroke-width="1.5"/>
<text transform="translate(35,272.66) scale(0.92,1)" font-size="16" fill="#4D4D4D" text-anchor="end">2</text>
<line x1="38.9" x2="43.6" y1="240.52" y2="240.52" stroke="#333" stroke-width="1.5"/>
<text transform="translate(35,247.72) scale(0.92,1)" font-size="16" fill="#4D4D4D" text-anchor="end">4</text>
<line x1="38.9" x2="43.6" y1="215.58" y2="215.58" stroke="#333" stroke-width="1.5"/>
<text transform="translate(35,222.78) scale(0.92,1)" font-size="16" fill="#4D4D4D" text-anchor="end">6</text>
<rect x="43.6" y="324.8" width="424.3" height="28.5" fill="#D9D9D9"/>
<text transform="translate(255.75,346) scale(0.92,1)" font-size="16" fill="#1A1A1A" text-anchor="middle">phi3[3]</text>
<rect x="43.6" y="353.3" width="424.3" height="96.5" fill="#EBEBEB"/>
<g clip-path="url(#c2)">
<line x1="43.6" x2="467.9" y1="431.82" y2="431.82" stroke="#fff" stroke-width="1.2"/>
<line x1="43.6" x2="467.9" y1="404.06" y2="404.06" stroke="#fff" stroke-width="1.2"/>
<line x1="43.6" x2="467.9" y1="376.3" y2="376.3" stroke="#fff" stroke-width="1.2"/>
<line y1="353.3" y2="449.8" x1="-7.2" x2="-7.2" stroke="#fff" stroke-width="1.2"/>
<line y1="353.3" y2="449.8" x1="112" x2="112" stroke="#fff" stroke-width="1.2"/>
<line y1="353.3" y2="449.8" x1="231.2" x2="231.2" stroke="#fff" stroke-width="1.2"/>
<line y1="353.3" y2="449.8" x1="350.4" x2="350.4" stroke="#fff" stroke-width="1.2"/>
<line x1="43.6" x2="467.9" y1="445.7" y2="445.7" stroke="#fff" stroke-width="1.7"/>
<line x1="43.6" x2="467.9" y1="417.94" y2="417.94" stroke="#fff" stroke-width="1.7"/>
<line x1="43.6" x2="467.9" y1="390.18" y2="390.18" stroke="#fff" stroke-width="1.7"/>
<line x1="43.6" x2="467.9" y1="362.42" y2="362.42" stroke="#fff" stroke-width="1.7"/>
<line y1="353.3" y2="449.8" x1="52.4" x2="52.4" stroke="#fff" stroke-width="1.7"/>
<line y1="353.3" y2="449.8" x1="171.6" x2="171.6" stroke="#fff" stroke-width="1.7"/>
<line y1="353.3" y2="449.8" x1="290.8" x2="290.8" stroke="#fff" stroke-width="1.7"/>
<line y1="353.3" y2="449.8" x1="410" x2="410" stroke="#fff" stroke-width="1.7"/>
<path d="M62.9,445.7C73.42,445.7 114.32,445.7 126,445.7C137.68,445.7 130.67,445.88 133,445.7C135.33,445.52 137.17,445.12 140,444.6C142.83,444.08 147.5,443.15 150,442.6C152.5,442.05 153.33,441.98 155,441.3C156.67,440.62 158,439.83 160,438.5C162,437.17 164.5,435.38 167,433.3C169.5,431.22 172.83,428.02 175,426C177.17,423.98 178,423.33 180,421.2C182,419.07 185,415.53 187,413.2C189,410.87 190.67,408.98 192,407.2C193.33,405.42 193.83,404.15 195,402.5C196.17,400.85 197.67,399.13 199,397.3C200.33,395.47 201.67,393.35 203,391.5C204.33,389.65 205.67,387.95 207,386.2C208.33,384.45 209.67,382.43 211,381C212.33,379.57 213.67,378.93 215,377.6C216.33,376.27 217.67,374.57 219,373C220.33,371.43 221.83,369.37 223,368.2C224.17,367.03 224.83,366.57 226,366C227.17,365.43 228.5,365.13 230,364.8C231.5,364.47 233.33,364.2 235,364C236.67,363.8 238.77,363.9 240,363.6C241.23,363.3 241.1,362.4 242.4,362.2C243.7,362 246.53,362.02 247.8,362.4C249.07,362.78 248.8,363.6 250,364.5C251.2,365.4 253.33,366.67 255,367.8C256.67,368.93 258.33,370.05 260,371.3C261.67,372.55 263.33,373.93 265,375.3C266.67,376.67 268.17,377.78 270,379.5C271.83,381.22 273.67,382.85 276,385.6C278.33,388.35 281.33,392.72 284,396C286.67,399.28 289.33,402.22 292,405.3C294.67,408.38 297,411.3 300,414.5C303,417.7 306.67,421.67 310,424.5C313.33,427.33 316.5,429.22 320,431.5C323.5,433.78 327.33,436.6 331,438.2C334.67,439.8 338.92,440.25 342,441.1C345.08,441.95 346.5,442.72 349.5,443.3C352.5,443.88 355.75,444.28 360,444.6C364.25,444.92 368.33,445.02 375,445.2C381.67,445.38 387.5,445.62 400,445.7C412.5,445.78 441.67,445.7 450,445.7L450,445.7L62.9,445.7Z" fill="#F8766D" fill-opacity="0.3"/>
<path d="M62.9,445.7C73.42,445.7 114.32,445.7 126,445.7C137.68,445.7 130.67,445.88 133,445.7C135.33,445.52 137.17,445.12 140,444.6C142.83,444.08 147.5,443.15 150,442.6C152.5,442.05 153.33,441.98 155,441.3C156.67,440.62 158,439.83 160,438.5C162,437.17 164.5,435.38 167,433.3C169.5,431.22 172.83,428.02 175,426C177.17,423.98 178,423.33 180,421.2C182,419.07 185,415.53 187,413.2C189,410.87 190.67,408.98 192,407.2C193.33,405.42 193.83,404.15 195,402.5C196.17,400.85 197.67,399.13 199,397.3C200.33,395.47 201.67,393.35 203,391.5C204.33,389.65 205.67,387.95 207,386.2C208.33,384.45 209.67,382.43 211,381C212.33,379.57 213.67,378.93 215,377.6C216.33,376.27 217.67,374.57 219,373C220.33,371.43 221.83,369.37 223,368.2C224.17,367.03 224.83,366.57 226,366C227.17,365.43 228.5,365.13 230,364.8C231.5,364.47 233.33,364.2 235,364C236.67,363.8 238.77,363.9 240,363.6C241.23,363.3 241.1,362.4 242.4,362.2C243.7,362 246.53,362.02 247.8,362.4C249.07,362.78 248.8,363.6 250,364.5C251.2,365.4 253.33,366.67 255,367.8C256.67,368.93 258.33,370.05 260,371.3C261.67,372.55 263.33,373.93 265,375.3C266.67,376.67 268.17,377.78 270,379.5C271.83,381.22 273.67,382.85 276,385.6C278.33,388.35 281.33,392.72 284,396C286.67,399.28 289.33,402.22 292,405.3C294.67,408.38 297,411.3 300,414.5C303,417.7 306.67,421.67 310,424.5C313.33,427.33 316.5,429.22 320,431.5C323.5,433.78 327.33,436.6 331,438.2C334.67,439.8 338.92,440.25 342,441.1C345.08,441.95 346.5,442.72 349.5,443.3C352.5,443.88 355.75,444.28 360,444.6C364.25,444.92 368.33,445.02 375,445.2C381.67,445.38 387.5,445.62 400,445.7C412.5,445.78 441.67,445.7 450,445.7" fill="none" stroke="#F8766D" stroke-width="1.7" stroke-linejoin="round"/>
<path d="M62.9,445.7C73.42,445.68 114.82,445.73 126,445.6C137.18,445.47 128.22,445.27 130,444.9C131.78,444.53 134.87,443.83 136.7,443.4C138.53,442.97 139.62,442.68 141,442.3C142.38,441.92 143.67,441.55 145,441.1C146.33,440.65 147.23,440.25 149,439.6C150.77,438.95 153.77,437.92 155.6,437.2C157.43,436.48 158.77,435.9 160,435.3C161.23,434.7 161.17,434.67 163,433.6C164.83,432.53 168.33,430.82 171,428.9C173.67,426.98 176.83,424.17 179,422.1C181.17,420.03 182.5,418.12 184,416.5C185.5,414.88 186.67,413.82 188,412.4C189.33,410.98 190.83,409.28 192,408C193.17,406.72 193.83,405.73 195,404.7C196.17,403.67 197.67,403.05 199,401.8C200.33,400.55 201.67,398.82 203,397.2C204.33,395.58 205.67,393.75 207,392.1C208.33,390.45 209.67,388.88 211,387.3C212.33,385.72 213.67,384.28 215,382.6C216.33,380.92 217.67,379.07 219,377.2C220.33,375.33 222,372.77 223,371.4C224,370.03 223.83,369.93 225,369C226.17,368.07 228.33,366.27 230,365.8C231.67,365.33 233.33,366 235,366.2C236.67,366.4 238.17,367.08 240,367C241.83,366.92 244.6,366.3 246,365.7C247.4,365.1 247.73,363.82 248.4,363.4C249.07,362.98 248.62,363.23 250,363.2C251.38,363.17 255.37,363.07 256.7,363.2C258.03,363.33 257.28,363.37 258,364C258.72,364.63 260,366 261,367C262,368 263,368.92 264,370C265,371.08 266,372.42 267,373.5C268,374.58 268.5,374.75 270,376.5C271.5,378.25 273.67,380.9 276,384C278.33,387.1 281.33,391.65 284,395.1C286.67,398.55 289.67,401.97 292,404.7C294.33,407.43 296.33,409.42 298,411.5C299.67,413.58 300.33,415.2 302,417.2C303.67,419.2 305.67,421.45 308,423.5C310.33,425.55 313.17,427.35 316,429.5C318.83,431.65 322.5,434.77 325,436.4C327.5,438.03 328.75,438.45 331,439.3C333.25,440.15 336,440.83 338.5,441.5C341,442.17 343.75,442.82 346,443.3C348.25,443.78 350.17,444.22 352,444.4C353.83,444.58 354.83,444.37 357,444.4C359.17,444.43 362,444.52 365,444.6C368,444.68 371.67,444.78 375,444.9C378.33,445.02 380.83,445.18 385,445.3C389.17,445.42 389.17,445.53 400,445.6C410.83,445.67 441.67,445.68 450,445.7L450,445.7L62.9,445.7Z" fill="#00BA38" fill-opacity="0.3"/>
<path d="M62.9,445.7C73.42,445.68 114.82,445.73 126,445.6C137.18,445.47 128.22,445.27 130,444.9C131.78,444.53 134.87,443.83 136.7,443.4C138.53,442.97 139.62,442.68 141,442.3C142.38,441.92 143.67,441.55 145,441.1C146.33,440.65 147.23,440.25 149,439.6C150.77,438.95 153.77,437.92 155.6,437.2C157.43,436.48 158.77,435.9 160,435.3C161.23,434.7 161.17,434.67 163,433.6C164.83,432.53 168.33,430.82 171,428.9C173.67,426.98 176.83,424.17 179,422.1C181.17,420.03 182.5,418.12 184,416.5C185.5,414.88 186.67,413.82 188,412.4C189.33,410.98 190.83,409.28 192,408C193.17,406.72 193.83,405.73 195,404.7C196.17,403.67 197.67,403.05 199,401.8C200.33,400.55 201.67,398.82 203,397.2C204.33,395.58 205.67,393.75 207,392.1C208.33,390.45 209.67,388.88 211,387.3C212.33,385.72 213.67,384.28 215,382.6C216.33,380.92 217.67,379.07 219,377.2C220.33,375.33 222,372.77 223,371.4C224,370.03 223.83,369.93 225,369C226.17,368.07 228.33,366.27 230,365.8C231.67,365.33 233.33,366 235,366.2C236.67,366.4 238.17,367.08 240,367C241.83,366.92 244.6,366.3 246,365.7C247.4,365.1 247.73,363.82 248.4,363.4C249.07,362.98 248.62,363.23 250,363.2C251.38,363.17 255.37,363.07 256.7,363.2C258.03,363.33 257.28,363.37 258,364C258.72,364.63 260,366 261,367C262,368 263,368.92 264,370C265,371.08 266,372.42 267,373.5C268,374.58 268.5,374.75 270,376.5C271.5,378.25 273.67,380.9 276,384C278.33,387.1 281.33,391.65 284,395.1C286.67,398.55 289.67,401.97 292,404.7C294.33,407.43 296.33,409.42 298,411.5C299.67,413.58 300.33,415.2 302,417.2C303.67,419.2 305.67,421.45 308,423.5C310.33,425.55 313.17,427.35 316,429.5C318.83,431.65 322.5,434.77 325,436.4C327.5,438.03 328.75,438.45 331,439.3C333.25,440.15 336,440.83 338.5,441.5C341,442.17 343.75,442.82 346,443.3C348.25,443.78 350.17,444.22 352,444.4C353.83,444.58 354.83,444.37 357,444.4C359.17,444.43 362,444.52 365,444.6C368,444.68 371.67,444.78 375,444.9C378.33,445.02 380.83,445.18 385,445.3C389.17,445.42 389.17,445.53 400,445.6C410.83,445.67 441.67,445.68 450,445.7" fill="none" stroke="#00BA38" stroke-width="1.7" stroke-linejoin="round"/>
<path d="M62.9,445.7C73.42,445.7 115.23,445.83 126,445.7C136.77,445.57 126.17,445.1 127.5,444.9C128.83,444.7 132.25,444.7 134,444.5C135.75,444.3 136.67,443.98 138,443.7C139.33,443.42 140.67,443.15 142,442.8C143.33,442.45 144.67,442.08 146,441.6C147.33,441.12 148.5,440.53 150,439.9C151.5,439.27 153.33,438.42 155,437.8C156.67,437.18 157.5,437.3 160,436.2C162.5,435.1 166.67,433.28 170,431.2C173.33,429.12 177.33,425.85 180,423.7C182.67,421.55 184.33,419.82 186,418.3C187.67,416.78 188.83,415.75 190,414.6C191.17,413.45 191.67,413.12 193,411.4C194.33,409.68 196.33,406.67 198,404.3C199.67,401.93 201.5,399.33 203,397.2C204.5,395.07 205.67,393.37 207,391.5C208.33,389.63 209.67,387.83 211,386C212.33,384.17 213.67,382.3 215,380.5C216.33,378.7 217.83,377.03 219,375.2C220.17,373.37 221,371.45 222,369.5C223,367.55 223.67,365.33 225,363.5C226.33,361.67 228.33,359.35 230,358.5C231.67,357.65 233.33,357.78 235,358.4C236.67,359.02 238.33,361.35 240,362.2C241.67,363.05 243.33,363.03 245,363.5C246.67,363.97 248.33,364.33 250,365C251.67,365.67 253.33,366.5 255,367.5C256.67,368.5 258.33,369.75 260,371C261.67,372.25 263.67,373.75 265,375C266.33,376.25 267.17,377.5 268,378.5C268.83,379.5 268.67,379.28 270,381C271.33,382.72 274.33,386.8 276,388.8C277.67,390.8 278.67,391.42 280,393C281.33,394.58 282.33,396.3 284,398.3C285.67,400.3 288.67,403.4 290,405C291.33,406.6 291,406.57 292,407.9C293,409.23 294.33,411.12 296,413C297.67,414.88 300,417.25 302,419.2C304,421.15 305.67,422.92 308,424.7C310.33,426.48 313.17,428.27 316,429.9C318.83,431.53 322.5,433.3 325,434.5C327.5,435.7 328.75,436.3 331,437.1C333.25,437.9 336,438.57 338.5,439.3C341,440.03 343.75,440.9 346,441.5C348.25,442.1 350.17,442.48 352,442.9C353.83,443.32 355,443.72 357,444C359,444.28 361,444.42 364,444.6C367,444.78 371.5,444.95 375,445.1C378.5,445.25 380.83,445.4 385,445.5C389.17,445.6 389.17,445.67 400,445.7C410.83,445.73 441.67,445.7 450,445.7L450,445.7L62.9,445.7Z" fill="#619CFF" fill-opacity="0.3"/>
<path d="M62.9,445.7C73.42,445.7 115.23,445.83 126,445.7C136.77,445.57 126.17,445.1 127.5,444.9C128.83,444.7 132.25,444.7 134,444.5C135.75,444.3 136.67,443.98 138,443.7C139.33,443.42 140.67,443.15 142,442.8C143.33,442.45 144.67,442.08 146,441.6C147.33,441.12 148.5,440.53 150,439.9C151.5,439.27 153.33,438.42 155,437.8C156.67,437.18 157.5,437.3 160,436.2C162.5,435.1 166.67,433.28 170,431.2C173.33,429.12 177.33,425.85 180,423.7C182.67,421.55 184.33,419.82 186,418.3C187.67,416.78 188.83,415.75 190,414.6C191.17,413.45 191.67,413.12 193,411.4C194.33,409.68 196.33,406.67 198,404.3C199.67,401.93 201.5,399.33 203,397.2C204.5,395.07 205.67,393.37 207,391.5C208.33,389.63 209.67,387.83 211,386C212.33,384.17 213.67,382.3 215,380.5C216.33,378.7 217.83,377.03 219,375.2C220.17,373.37 221,371.45 222,369.5C223,367.55 223.67,365.33 225,363.5C226.33,361.67 228.33,359.35 230,358.5C231.67,357.65 233.33,357.78 235,358.4C236.67,359.02 238.33,361.35 240,362.2C241.67,363.05 243.33,363.03 245,363.5C246.67,363.97 248.33,364.33 250,365C251.67,365.67 253.33,366.5 255,367.5C256.67,368.5 258.33,369.75 260,371C261.67,372.25 263.67,373.75 265,375C266.33,376.25 267.17,377.5 268,378.5C268.83,379.5 268.67,379.28 270,381C271.33,382.72 274.33,386.8 276,388.8C277.67,390.8 278.67,391.42 280,393C281.33,394.58 282.33,396.3 284,398.3C285.67,400.3 288.67,403.4 290,405C291.33,406.6 291,406.57 292,407.9C293,409.23 294.33,411.12 296,413C297.67,414.88 300,417.25 302,419.2C304,421.15 305.67,422.92 308,424.7C310.33,426.48 313.17,428.27 316,429.9C318.83,431.53 322.5,433.3 325,434.5C327.5,435.7 328.75,436.3 331,437.1C333.25,437.9 336,438.57 338.5,439.3C341,440.03 343.75,440.9 346,441.5C348.25,442.1 350.17,442.48 352,442.9C353.83,443.32 355,443.72 357,444C359,444.28 361,444.42 364,444.6C367,444.78 371.5,444.95 375,445.1C378.5,445.25 380.83,445.4 385,445.5C389.17,445.6 389.17,445.67 400,445.7C410.83,445.73 441.67,445.7 450,445.7" fill="none" stroke="#619CFF" stroke-width="1.7" stroke-linejoin="round"/>
</g>
<line x1="52.4" x2="52.4" y1="449.8" y2="454.4" stroke="#333" stroke-width="1.5"/>
<text transform="translate(51.6,471.6) scale(0.92,1)" font-size="16" fill="#4D4D4D" text-anchor="middle">-0.6</text>
<line x1="171.6" x2="171.6" y1="449.8" y2="454.4" stroke="#333" stroke-width="1.5"/>
<text transform="translate(170.8,471.6) scale(0.92,1)" font-size="16" fill="#4D4D4D" text-anchor="middle">-0.4</text>
<line x1="290.8" x2="290.8" y1="449.8" y2="454.4" stroke="#333" stroke-width="1.5"/>
<text transform="translate(290,471.6) scale(0.92,1)" font-size="16" fill="#4D4D4D" text-anchor="middle">-0.2</text>
<line x1="410" x2="410" y1="449.8" y2="454.4" stroke="#333" stroke-width="1.5"/>
<text transform="translate(409.2,471.6) scale(0.92,1)" font-size="16" fill="#4D4D4D" text-anchor="middle">0.0</text>
<line x1="38.9" x2="43.6" y1="445.7" y2="445.7" stroke="#333" stroke-width="1.5"/>
<text transform="translate(35,452.9) scale(0.92,1)" font-size="16" fill="#4D4D4D" text-anchor="end">0</text>
<line x1="38.9" x2="43.6" y1="417.94" y2="417.94" stroke="#333" stroke-width="1.5"/>
<text transform="translate(35,425.14) scale(0.92,1)" font-size="16" fill="#4D4D4D" text-anchor="end">2</text>
<line x1="38.9" x2="43.6" y1="390.18" y2="390.18" stroke="#333" stroke-width="1.5"/>
<text transform="translate(35,397.38) scale(0.92,1)" font-size="16" fill="#4D4D4D" text-anchor="end">4</text>
<line x1="38.9" x2="43.6" y1="362.42" y2="362.42" stroke="#333" stroke-width="1.5"/>
<text transform="translate(35,369.62) scale(0.92,1)" font-size="16" fill="#4D4D4D" text-anchor="end">6</text>
<defs>
<clipPath id="c0"><rect x="43.6" y="40" width="424.3" height="97.7"/></clipPath>
<clipPath id="c1"><rect x="43.6" y="196.9" width="424.3" height="96.4"/></clipPath>
<clipPath id="c2"><rect x="43.6" y="353.3" width="424.3" height="96.5"/></clipPath>
</defs>
<text transform="translate(256.45,492) scale(0.955,1)" font-size="18" fill="#000" text-anchor="middle">value</text>
<text transform="translate(20.2,245.2) rotate(-90)" font-size="18" fill="#000" text-anchor="middle">density</text>
<text transform="translate(494.3,208.7)" font-size="18" fill="#000">Chain</text>
<rect x="495.5" y="218" width="26.4" height="26.4" fill="#F2F2F2"/>
<rect x="496.3" y="218.8" width="24.8" height="24.8" fill="#F8766D" fill-opacity="0.3" stroke="#F8766D" stroke-width="1.6"/>
<text transform="translate(530.5,239) scale(0.92,1)" font-size="16" fill="#000">1</text>
<rect x="495.5" y="245.6" width="26.4" height="26.4" fill="#F2F2F2"/>
<rect x="496.3" y="246.4" width="24.8" height="24.8" fill="#00BA38" fill-opacity="0.3" stroke="#00BA38" stroke-width="1.6"/>
<text transform="translate(530.5,266.6) scale(0.92,1)" font-size="16" fill="#000">2</text>
<rect x="495.5" y="273.2" width="26.4" height="26.4" fill="#F2F2F2"/>
<rect x="496.3" y="274" width="24.8" height="24.8" fill="#619CFF" fill-opacity="0.3" stroke="#619CFF" stroke-width="1.6"/>
<text transform="translate(530.5,294.2) scale(0.92,1)" font-size="16" fill="#000">3</text>
</svg></body></html>
